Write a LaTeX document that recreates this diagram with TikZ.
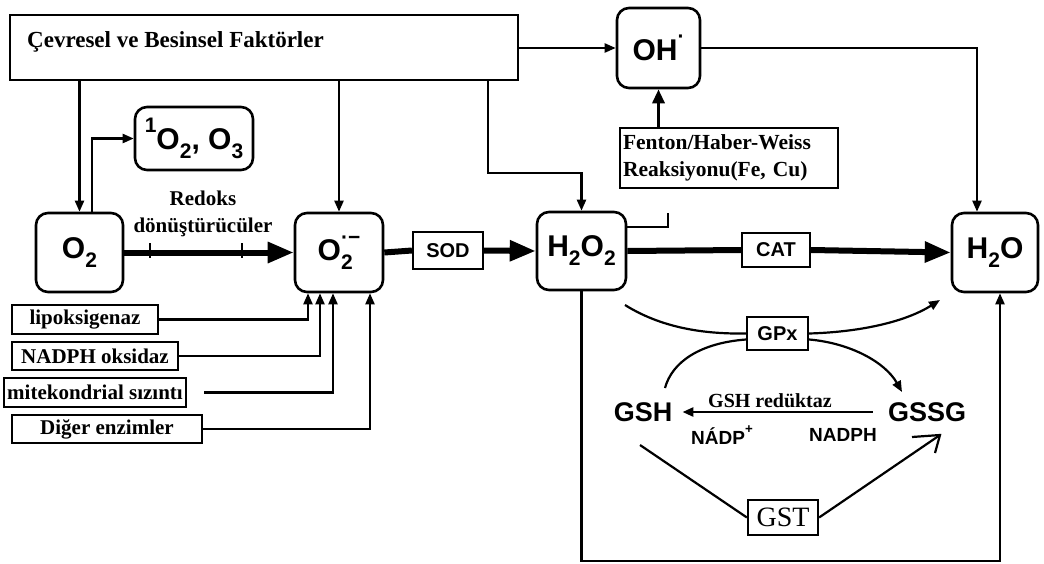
\documentclass[tikz,border=0pt]{standalone}
\usepackage{fontspec}
\setmainfont{Liberation Serif}
\newfontfamily\chemfont{Liberation Sans}
\usepackage{graphicx}
\usetikzlibrary{arrows.meta}
\newcommand{\chsub}[1]{\raisebox{-0.3em}{\scalebox{0.7}{#1}}}
\newcommand{\chsupr}[1]{\raisebox{0.55em}{\scalebox{0.7}{#1}}}
\begin{document}
\begin{tikzpicture}[x=1pt,y=-1pt,
  chembox/.style={draw, line width=2.6pt, rounded corners=12pt, inner sep=0pt,
    font=\chemfont\bfseries\fontsize{30}{33}\selectfont},
  enzbox/.style={draw, line width=2.2pt, inner sep=0pt,
    font=\chemfont\bfseries\fontsize{20}{22}\selectfont},
  srcbox/.style={draw, line width=2.2pt, inner sep=0pt,
    font=\bfseries\fontsize{21}{23}\selectfont},
  ln/.style={line width=2.2pt},
  ar/.style={-{Triangle[length=11pt,width=9pt]}},
  fat/.style={line width=6pt, -{Triangle[length=26pt,width=20pt]}},
  fatline/.style={line width=6pt},
  plain/.style={inner sep=0pt}
]
\useasboundingbox (0,0) rectangle (1044,563);
\fill[white] (0,0) rectangle (1044,563);

% top box
\node[draw, line width=2.6pt, minimum width=508pt, minimum height=65pt, inner sep=0pt] (top) at (264,47.5) {};
\node[plain, anchor=west, font=\bfseries\fontsize{23}{25}\selectfont] (toptext) at (27,42) {Çevresel ve Besinsel Faktörler};

% chemical species
\node[chembox, minimum width=83pt, minimum height=80pt] (oh) at (658.5,48) {OH\chsupr{·}};
\node[chembox, minimum width=118pt, minimum height=63pt] (singlet) at (194,138.5) {\chsupr{1}O\chsub{2}, O\chsub{3}};
\node[chembox, minimum width=87pt, minimum height=79pt] (o2) at (79.5,252.5) {O\chsub{2}};
\node[chembox, minimum width=88pt, minimum height=79pt] (sup) at (339,252.5) {O\rlap{\chsub{2}}\chsupr{·−}};
\node[chembox, minimum width=89pt, minimum height=78pt] (h2o2) at (581.5,251) {H\chsub{2}O\chsub{2}};
\node[chembox, minimum width=86pt, minimum height=79pt] (h2o) at (995,252.5) {H\chsub{2}O};

% enzymes
\node[enzbox, minimum width=70pt, minimum height=37pt] (sod) at (448,250.5) {SOD};
\node[enzbox, minimum width=68pt, minimum height=34pt] (cat) at (776,250) {CAT};
\node[enzbox, minimum width=61pt, minimum height=33pt] (gpx) at (777.5,333.5) {GPx};
\node[draw, line width=2.2pt, inner sep=0pt, minimum width=70pt, minimum height=35pt,
  font=\fontsize{28}{30}\selectfont] (gst) at (783,517.5) {GST};

% Fenton
\node[srcbox, minimum width=218pt, minimum height=60pt, text width=212pt, align=left,
  font=\bfseries\fontsize{21.5}{27}\selectfont] (fenton) at (729,158) {Fenton/Haber-Weiss\\Reaksiyonu(Fe, Cu)};

% sources
\node[srcbox, minimum width=146pt, minimum height=29pt] (lipo) at (85,319.5) {lipoksigenaz};
\node[srcbox, minimum width=166pt, minimum height=28pt] (nadph) at (95,356) {NADPH oksidaz};
\node[srcbox, minimum width=182pt, minimum height=29pt] (mito) at (95,392.5) {mitekondrial sızıntı};
\node[srcbox, minimum width=190pt, minimum height=28pt] (diger) at (107,429) {Diğer enzimler};

% labels
\node[plain, align=center, font=\bfseries\fontsize{21}{27}\selectfont] (redoks) at (203,214) {Redoks\\dönüştürücüler};
\node[plain, font=\chemfont\bfseries\fontsize{27}{29}\selectfont] (gsh) at (643,412) {GSH};
\node[plain, font=\chemfont\bfseries\fontsize{27}{29}\selectfont] (gssg) at (927,412) {GSSG};
\node[plain, font=\bfseries\fontsize{20}{22}\selectfont] (gshred) at (770,401) {GSH redüktaz};
\node[plain, font=\chemfont\bfseries\fontsize{19}{21}\selectfont] (nadp) at (722,435) {NÁDP\chsupr{+}};
\node[plain, font=\chemfont\bfseries\fontsize{19}{21}\selectfont] (nadphl) at (843,435) {NADPH};

% coordinates
\coordinate (t3) at (488,80);
\coordinate (g1) at (625,305);
\coordinate (g2) at (940,300);
\coordinate (g3) at (665,388);
\coordinate (g4) at (902,392);
\coordinate (gs1) at (640,445);
\coordinate (gtip) at (940,435);

% connectors from top box
\draw[ln, ar] (top.south -| o2.north) -- (o2.north);
\draw[ln, ar] (top.south -| sup.north) -- (sup.north);
\draw[ln, ar] (t3) -- (488,173) -| (h2o2.north);
\draw[ln, ar] (top.east |- oh.west) -- (oh.west);
\draw[ln, ar] (oh.east) -| ([xshift=-18pt]h2o.north);
\draw[line width=3.2pt, -{Triangle[length=14pt,width=12pt]}] (oh.south |- fenton.north) -- (oh.south);
\draw[ln] ([yshift=24pt]h2o2.east) -- ++(41,0) -- ++(0,-14);
\draw[ln, ar] ([xshift=12.5pt]o2.north) |- (singlet.west);

% main thick path
\draw[fat] (o2.east) -- (sup.west);
\draw[ln] (150,243) -- (150,258);
\draw[ln] (242,243) -- (242,258);
\draw[fatline] (sup.east) -- (sod.west);
\draw[fat] (sod.east) -- (h2o2.west);
\draw[fatline] (h2o2.east) -- (cat.west);
\draw[fat] (cat.east) -- (h2o.west);

% sources to superoxide
\draw[ln, ar] (lipo.east) -| ([xshift=-31pt]sup.south);
\draw[ln, ar] (nadph.east) -| ([xshift=-19pt]sup.south);
\draw[ln, ar] ([xshift=17pt]mito.east) -| ([xshift=-6pt]sup.south);
\draw[ln, ar] (diger.east) -| ([xshift=31pt]sup.south);

% bottom loop
\draw[ln, ar] (h2o2.south) -- ++(0,270) -| ([xshift=5pt]h2o.south);

% GPx curves
\draw[ln] (g1) .. controls (665,330) and (710,334) .. (gpx.west);
\draw[ln, ar] (gpx.east) .. controls (860,332) and (905,322) .. (g2);
\draw[ln] ([yshift=-6pt]gpx.west) .. controls (700,343) and (672,362) .. (g3);
\draw[ln, ar] ([yshift=-6pt]gpx.east) .. controls (850,343) and (885,362) .. (g4);

% GSH reductase
\draw[line width=2.6pt, ar, shorten <=15pt, shorten >=10pt] (gssg.west) -- (gsh.east);

% GST
\draw[ln] (gs1) -- (gst.west);
\draw[ln] (gst.east) -- (gtip);
\draw[ln] (912,437) -- (gtip) -- (935,453);
\end{tikzpicture}
\end{document}
